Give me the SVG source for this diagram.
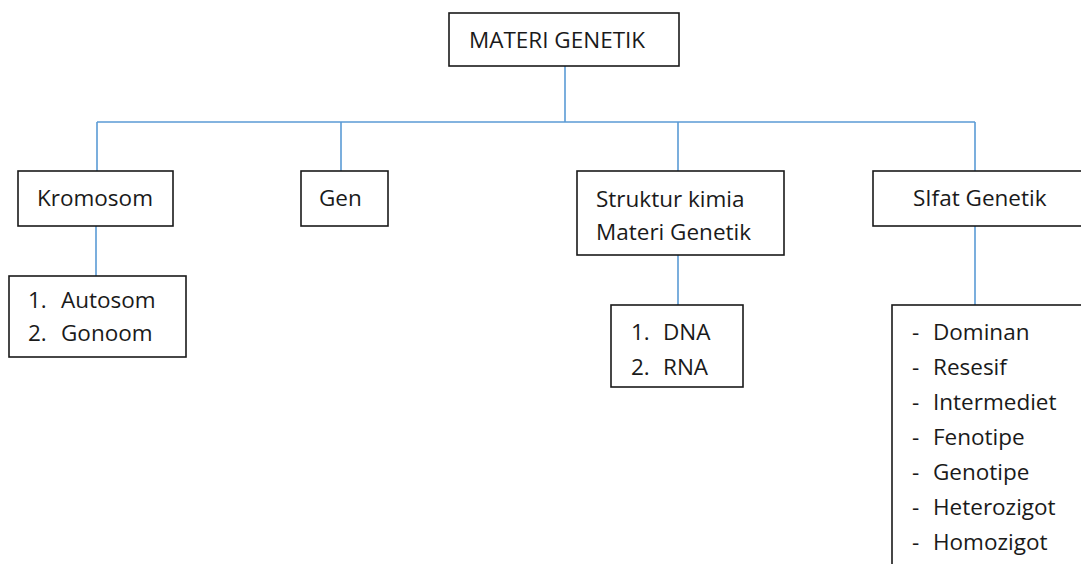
<svg xmlns="http://www.w3.org/2000/svg" width="1081" height="564" viewBox="0 0 1081 564">
<style>
.box{fill:#fff;stroke:#1a1a1a;stroke-width:1.6}
.ln{fill:none;stroke:#5b9bd5;stroke-width:1.6}
text{font-family:"Open Sans","Liberation Sans",sans-serif;font-size:22.5px;fill:#1a1a1a}
</style>
<rect width="1081" height="564" fill="#fff"/>
<g id="connectors">
<path class="ln" d="M565 66V122M97 122H975M97 122V171M341 122V171M678 122V171M975 122V171M96 226V276M678 255V305M975 226V305"/>
</g>
<g id="materi-genetik">
<rect class="box" x="449" y="13" width="230" height="53"/>
<text x="469" y="48">MATERI GENETIK</text>
</g>
<g id="kromosom">
<rect class="box" x="18" y="171" width="155" height="55"/>
<text x="37" y="206">Kromosom</text>
</g>
<g id="gen">
<rect class="box" x="301" y="171" width="87" height="55"/>
<text x="319" y="206">Gen</text>
</g>
<g id="struktur">
<rect class="box" x="577" y="171" width="207" height="84"/>
<text x="596" y="207">Struktur kimia</text>
<text x="596" y="240">Materi Genetik</text>
</g>
<g id="sifat">
<rect class="box" x="873" y="171" width="220" height="55"/>
<text x="913" y="206">SIfat Genetik</text>
</g>
<g id="kromosom-list">
<rect class="box" x="9" y="276" width="177" height="81"/>
<text x="28" y="308">1.</text><text x="61" y="308">Autosom</text>
<text x="28" y="341">2.</text><text x="61" y="341">Gonoom</text>
</g>
<g id="struktur-list">
<rect class="box" x="611" y="305" width="132" height="82"/>
<text x="631" y="340">1.</text><text x="663" y="340">DNA</text>
<text x="631" y="375">2.</text><text x="663" y="375">RNA</text>
</g>
<g id="sifat-list">
<rect class="box" x="892" y="305" width="200" height="270"/>
<text x="912" y="340">-</text><text x="933" y="340">Dominan</text>
<text x="912" y="375">-</text><text x="933" y="375">Resesif</text>
<text x="912" y="410">-</text><text x="933" y="410">Intermediet</text>
<text x="912" y="445">-</text><text x="933" y="445">Fenotipe</text>
<text x="912" y="480">-</text><text x="933" y="480">Genotipe</text>
<text x="912" y="515">-</text><text x="933" y="515">Heterozigot</text>
<text x="912" y="550">-</text><text x="933" y="550">Homozigot</text>
</g>
</svg>
